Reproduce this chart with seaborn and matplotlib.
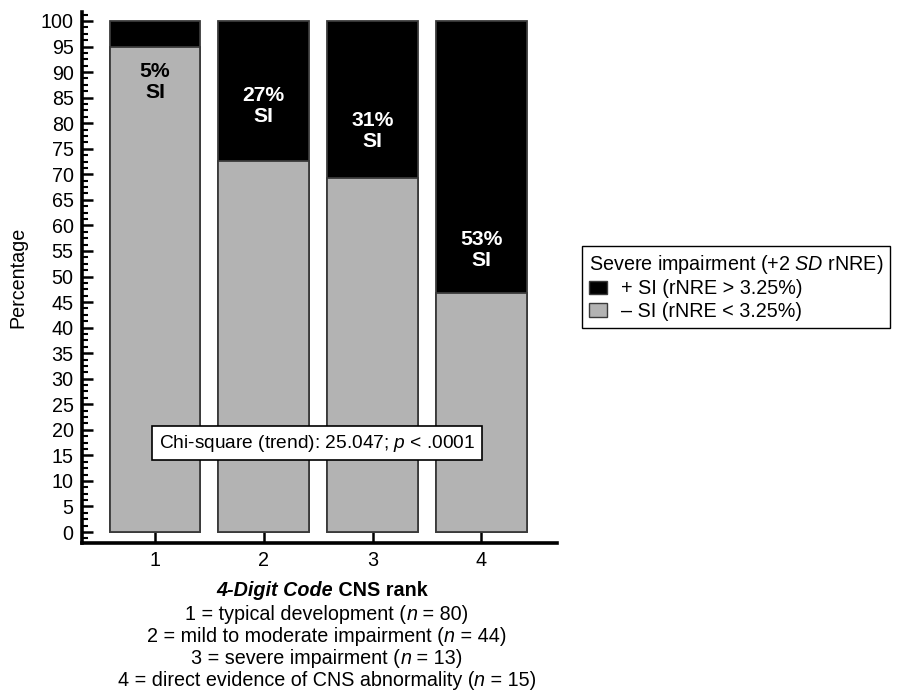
import numpy as np
import pandas as pd
import matplotlib
matplotlib.use("Agg")
import matplotlib.pyplot as plt
from matplotlib.patches import Patch
from matplotlib.ticker import MultipleLocator
import seaborn as sns

# ---- data ----
ranks = ["1", "2", "3", "4"]
pos_si = [5.0, 27.3, 30.8, 53.3]      # + SI (black)
neg_si = [95.0, 72.7, 69.2, 46.7]     # - SI (gray)
rank_desc = ["typical development", "mild to moderate impairment",
             "severe impairment", "direct evidence of CNS abnormality"]
rank_n = [80, 44, 13, 15]
chi_text = "25.047"
p_text = ".0001"

sns.set_style("white")
plt.rcParams["font.family"] = ["Liberation Sans", "DejaVu Sans"]
plt.rcParams["mathtext.fontset"] = "custom"
plt.rcParams["mathtext.rm"] = "Liberation Sans"
plt.rcParams["mathtext.it"] = "Liberation Sans:italic"
plt.rcParams["mathtext.bf"] = "Liberation Sans:bold"
for k in ["text.color", "axes.labelcolor", "xtick.color", "ytick.color", "axes.edgecolor"]:
    plt.rcParams[k] = "black"

FS = 14.2
W, H = 906, 690
GRAY = "#b3b3b3"
EDGE = "#3a3a3a"

df = pd.DataFrame({"rank": ranks, "neg": neg_si, "pos": pos_si})
df["total"] = df["neg"] + df["pos"]

fig = plt.figure(figsize=(W / 100, H / 100), dpi=100)
ax = fig.add_axes([82 / W, 1 - 543 / H, (557 - 82) / W, (543 - 12) / H])

sns.barplot(data=df, x="rank", y="total", color="black", saturation=1,
            width=0.836, edgecolor=EDGE, linewidth=1.3, ax=ax)
sns.barplot(data=df, x="rank", y="neg", color=GRAY, saturation=1,
            width=0.836, edgecolor=EDGE, linewidth=1.3, ax=ax)

ax.set_xlim(-0.671, 3.695)
ax.set_ylim(-2.15, 101.76)
ax.set_xlabel("")
ax.set_ylabel("")
ax.yaxis.set_major_locator(MultipleLocator(5))
ax.yaxis.set_minor_locator(MultipleLocator(1.25))
ax.tick_params(axis="y", which="major", direction="in", length=8, width=1.8,
               labelsize=FS, pad=6, left=True, colors="black")
ax.tick_params(axis="y", which="minor", direction="in", length=4, width=1.5, left=True,
               colors="black")
ax.tick_params(axis="x", which="major", direction="in", length=8, width=1.8,
               labelsize=FS, pad=6, bottom=True, colors="black")
for s in ["top", "right"]:
    ax.spines[s].set_visible(False)
for s in ["left", "bottom"]:
    ax.spines[s].set_linewidth(2.6)
    ax.spines[s].set_color("black")

# bar labels
label_y = [88.0, 83.3, 78.5, 55.2]
for i, (p, ly) in enumerate(zip(pos_si, label_y)):
    col = "black" if p < 10 else "white"
    ax.text(i, ly, f"{round(p)}%\nSI", ha="center", va="center", fontsize=15.2,
            fontweight="bold", color=col, linespacing=1.15)

# chi-square box
ax.text(1.489, 17.4, f"Chi-square (trend): {chi_text}; $\\mathit{{p}}$ < {p_text}",
        ha="center", va="center", fontsize=13.8, color="black",
        bbox=dict(boxstyle="square,pad=0.36", facecolor="white", edgecolor="black", linewidth=1.2))

# y label
fig.text(18 / W, 1 - 277 / H, "Percentage", rotation=90, ha="center", va="center",
         fontsize=FS, color="black")

# rich text helper
renderer = fig.canvas.get_renderer()


def rich_line(xc_px, y_px, pieces):
    texts = []
    for s, kw in pieces:
        t = fig.text(0, 1 - y_px / H, s, fontsize=FS, ha="left", va="center",
                     color="black", **kw)
        texts.append(t)
    widths = [t.get_window_extent(renderer).width for t in texts]
    x = xc_px - sum(widths) / 2
    for t, w in zip(texts, widths):
        t.set_x(x / W)
        x += w


rich_line(322, 590, [("4-Digit Code", dict(fontweight="bold", fontstyle="italic")),
                     (" CNS rank", dict(fontweight="bold"))])
for k, (r, d, n) in enumerate(zip(ranks, rank_desc, rank_n)):
    rich_line(327, 614 + 22.3 * k, [(f"{r} = {d} (", {}), ("n", dict(fontstyle="italic")),
                                    (f" = {n})", {})])

# legend
handles = [Patch(facecolor="black", edgecolor=EDGE, linewidth=1.0),
           Patch(facecolor=GRAY, edgecolor=EDGE, linewidth=1.0)]
labels = ["+ SI (rNRE > 3.25%)", "\u2013 SI (rNRE < 3.25%)"]
leg = fig.legend(handles, labels, title="Severe impairment (+2 $\\mathit{SD}$ rNRE)",
                 loc="upper left", bbox_to_anchor=(572 / W, 1 - 236 / H),
                 fontsize=FS, title_fontsize=FS, frameon=True, fancybox=False,
                 edgecolor="black", framealpha=1, borderpad=0.35,
                 handlelength=0.9, handleheight=0.66, handletextpad=0.75,
                 labelspacing=0.18, alignment="left", labelcolor="black")
leg.get_frame().set_linewidth(1.0)
leg.get_title().set_color("black")

fig.savefig("out.png", dpi=100)
